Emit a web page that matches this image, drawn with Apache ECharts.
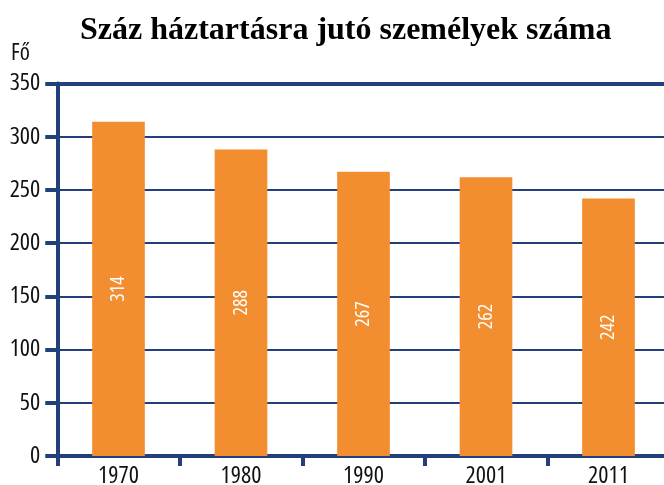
<!DOCTYPE html>
<html>
<head>
<meta charset="utf-8">
<script src="https://cdn.jsdelivr.net/npm/echarts@6/dist/echarts.min.js"></script>
<style>
html,body{margin:0;padding:0;background:#fff;}
#chart{width:664px;height:485px;}
</style>
</head>
<body>
<div id="chart"></div>
<script>
const categories = ['1970', '1980', '1990', '2001', '2011'];
const values = [314, 288, 267, 262, 242];
const yTicks = [0, 50, 100, 150, 200, 250, 300, 350];
const titleText = 'Száz háztartásra jutó személyek száma';
const unitText = 'Fő';

const NAVY = '#22407b';
const ORANGE = '#f28e2f';
const COND = '"Open Sans", "DejaVu Sans", sans-serif';

const chart = echarts.init(document.getElementById('chart'), null, {renderer: 'canvas'});
chart.setOption({
  backgroundColor: '#ffffff',
  animation: false,
  title: {
    text: titleText,
    left: 75,
    top: 10,
    textStyle: {fontFamily: '"Liberation Serif", "DejaVu Serif", serif', fontWeight: 'bold', fontSize: 32, color: '#000'}
  },
  graphic: [{
    type: 'text', left: 11, top: 42,
    style: {text: unitText, font: 'condensed 23px ' + COND, fill: '#111'}
  }],
  grid: {left: 57.25, width: 612.5, top: 83.5, height: 372.5, containLabel: false, outerBoundsMode: 'none'},
  xAxis: [{
    type: 'category',
    data: categories,
    axisLine: {lineStyle: {color: NAVY, width: 4}},
    axisTick: {show: true, alignWithLabel: false, length: 10, lineStyle: {color: NAVY, width: 4}},
    axisLabel: {color: '#111', fontFamily: COND, fontStyle: 'condensed', fontSize: 24, margin: 8},
    splitLine: {show: false}
  }, {
    type: 'category',
    position: 'top',
    data: categories,
    axisLine: {lineStyle: {color: NAVY, width: 4}},
    axisTick: {show: false},
    axisLabel: {show: false}
  }],
  yAxis: {
    type: 'value',
    min: yTicks[0],
    max: yTicks[yTicks.length - 1],
    interval: 50,
    axisLine: {show: true, lineStyle: {color: NAVY, width: 4}},
    axisTick: {show: true, length: 12, lineStyle: {color: NAVY, width: 4}},
    axisLabel: {color: '#111', fontFamily: COND, fontStyle: 'condensed', fontSize: 24, margin: 17},
    splitLine: {show: true, lineStyle: {color: NAVY, width: 2}}
  },
  series: [{
    type: 'bar',
    data: values,
    barWidth: '43%',
    z: 3,
    itemStyle: {color: ORANGE},
    label: {
      show: true,
      position: 'inside',
      rotate: 90,
      color: '#fff',
      fontFamily: COND,
      fontStyle: 'condensed',
      fontSize: 20
    }
  }]
});
</script>
</body>
</html>
